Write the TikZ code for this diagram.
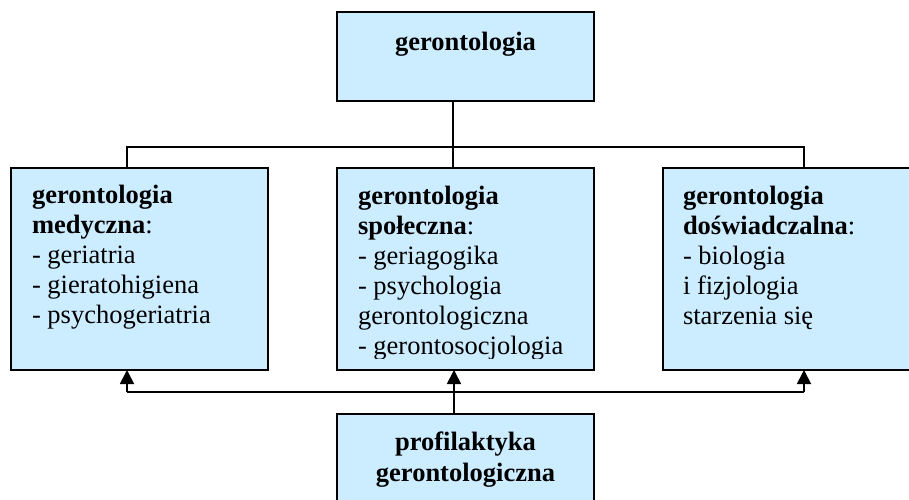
\documentclass[tikz,border=0pt]{standalone}
\usepackage{fontspec}
\setmainfont{Liberation Serif}
\usetikzlibrary{arrows.meta}
\definecolor{boxblue}{RGB}{204,236,255}
\tikzset{
  box/.style={draw=black, fill=boxblue, line width=1.8pt, inner sep=0pt, outer sep=0pt,
    minimum width=257pt, minimum height=#1},
  box/.default=202pt,
  txt/.style={inner sep=0pt, outer sep=0pt, align=left, anchor=base west,
    font=\fontsize{26.5}{30}\selectfont},
  ctxt/.style={inner sep=0pt, outer sep=0pt, align=center, anchor=base,
    font=\fontsize{26.5}{31}\selectfont\bfseries},
  conn/.style={line width=1.8pt, draw=black},
  arr/.style={conn, -{Triangle[width=14pt,length=14pt]}}
}
\begin{document}
\begin{tikzpicture}[x=1pt,y=-1pt]
\clip (0,0) rectangle (909,499);
\fill[white] (0,0) rectangle (909,499);
% boxes
\node[box=89pt] (top) at (465.5,56.5) {};
\node[box] (med) at (139.5,269) {};
\node[box] (spo) at (465.5,269) {};
\node[box] (dos) at (791.5,269) {};
\node[box=90pt] (prof) at (465.5,459) {};
% texts (anchored at the baseline of their last line)
\node[ctxt] (ttop) at (465.5,50) {gerontologia};
\node[txt] (tmed) at (32,323.5) {\textbf{gerontologia}\\\textbf{medyczna}:\\- geriatria\\- gieratohigiena\\- psychogeriatria};
\begin{scope}
\clip (337,168) rectangle (594,358);
\node[txt] (tspo) at (358,354) {\textbf{gerontologia}\\\textbf{społeczna}:\\- geriagogika\\- psychologia\\gerontologiczna\\- gerontosocjologia};
\end{scope}
\node[txt] (tdos) at (683,324) {\textbf{gerontologia}\\\textbf{doświadczalna}:\\- biologia\\i fizjologia\\starzenia się};
\node[ctxt] (tprof) at (465.5,481) {profilaktyka\\gerontologiczna};
% connector points
\coordinate (cM) at (453,147);
\coordinate (cL) at (127,147);
\coordinate (cR) at (804,147);
\coordinate (bM) at (454,392);
\coordinate (bL) at (127,392);
\coordinate (bR) at (804,392);
% top connectors
\draw[conn] (cM |- top.south) -- (cM);
\draw[conn] (cL |- med.north) -- (cL) -- (cR) -- (cR |- dos.north);
\draw[conn] (cM) -- (cM |- spo.north);
% bottom connectors
\draw[conn] (bL) -- (bR);
\draw[conn] (bM |- prof.north) -- (bM);
\draw[arr] (bM) -- (bM |- spo.south);
\draw[arr] (bL) -- (bL |- med.south);
\draw[arr] (bR) -- (bR |- dos.south);
\end{tikzpicture}
\end{document}
